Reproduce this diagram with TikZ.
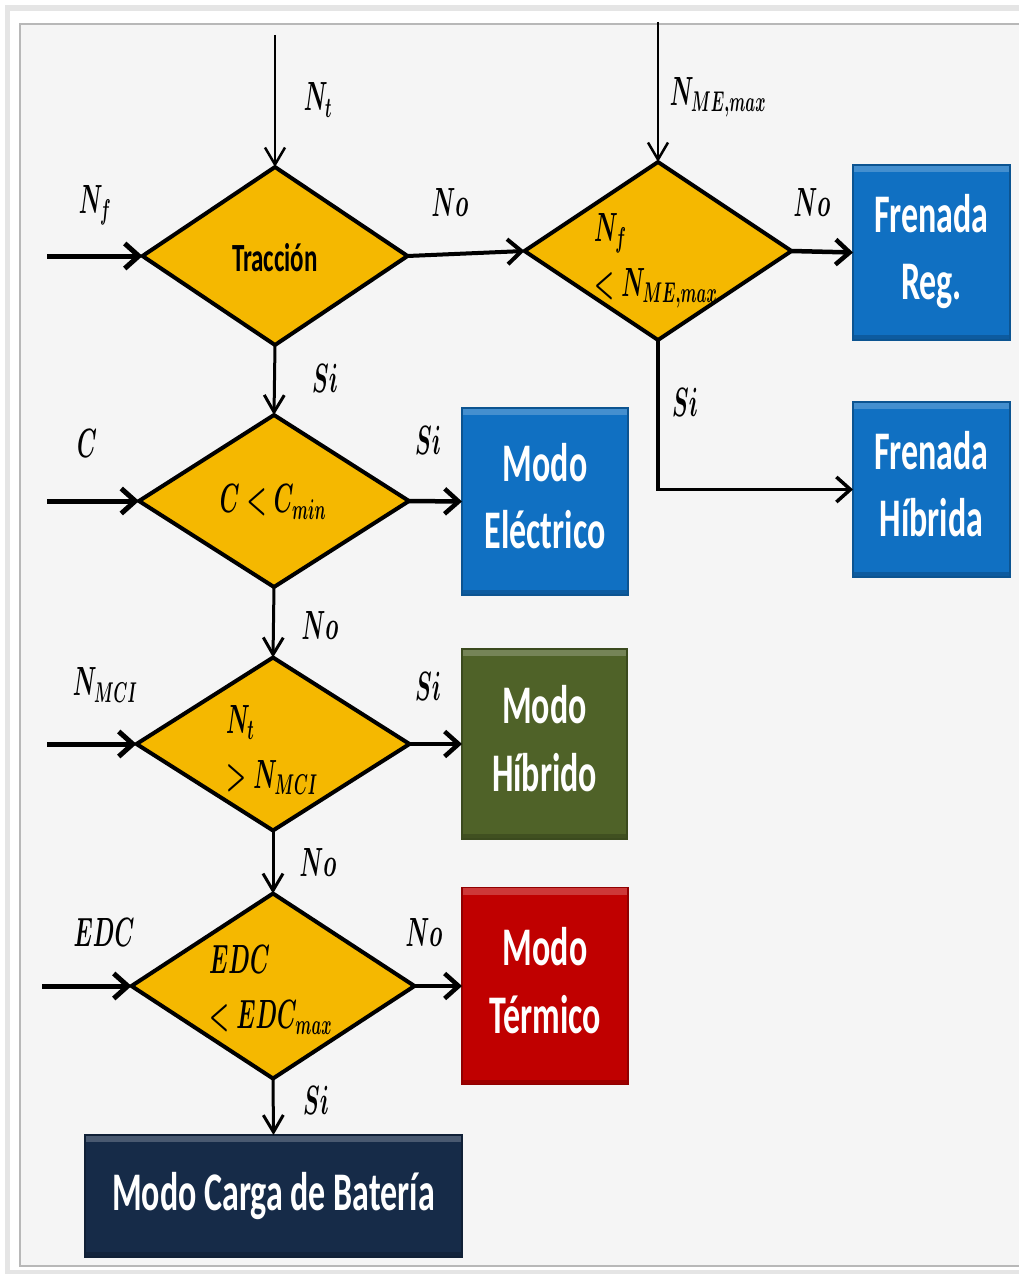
\RequirePackage{fix-cm}
\documentclass[tikz,border=0pt]{standalone}
\usepackage{fontspec}
\usepackage{graphicx}
\newfontfamily\cfont{Carlito}
\usetikzlibrary{shapes.geometric,arrows.meta}
\definecolor{gold}{RGB}{245,184,0}
\definecolor{mblue}{RGB}{16,112,194}
\definecolor{mgreen}{RGB}{79,98,40}
\definecolor{mred}{RGB}{192,0,0}
\definecolor{mnavy}{RGB}{22,43,72}
\definecolor{panel}{RGB}{245,245,245}
\newcommand{\tallt}[1]{\scalebox{1}[1.6]{#1}}
\newcommand{\tallm}[1]{\scalebox{0.93}[1.7]{#1}}
\begin{document}
\begin{tikzpicture}[x=1pt,y=-1pt,
  dia/.style={diamond, draw=black, line width=4pt, fill=gold, inner sep=0pt, outer sep=0pt},
  modebox/.style={rectangle, inner sep=0pt, outer sep=0pt, text=white,
     font=\cfont\bfseries\fontsize{34}{42}\selectfont, fill=#1, draw=#1!75!black, line width=1.2pt,
     path picture={\fill[white,opacity=0.22] (path picture bounding box.north west) rectangle ([yshift=-7pt]path picture bounding box.north east);
                   \fill[black,opacity=0.18] ([yshift=5pt]path picture bounding box.south west) rectangle (path picture bounding box.south east);}},
  lbl/.style={inner sep=0pt, font=\fontsize{24}{32}\selectfont\boldmath},
  arr/.style={-{Straight Barb[length=14pt,width=25pt]}, line width=#1},
  arrt/.style={-{Straight Barb[length=17pt,width=20pt]}, line width=#1}]
\useasboundingbox (0,0) rectangle (1019,1276);
% frame
\fill[white] (0,0) rectangle (1019,1276);
\fill[black!10] (5,5) rectangle (1019,1274);
\fill[white] (10,11) rectangle (1019,1270);
\filldraw[fill=panel, draw=black!28, line width=1.5pt] (20,24) rectangle (1030,1266);

% decision diamonds
\node[dia, minimum width=265pt, minimum height=178pt] (D1) at (275,256) {};
\node[dia, minimum width=267pt, minimum height=178pt] (D2) at (658,251) {};
\node[dia, minimum width=270pt, minimum height=172pt] (D3) at (274,501) {};
\node[dia, minimum width=273pt, minimum height=173pt] (D4) at (273,744) {};
\node[dia, minimum width=283pt, minimum height=185pt] (D5) at (273,986) {};

% mode boxes
\node[modebox=mblue, minimum width=157pt, minimum height=175pt] (FR) at (931.5,252.5)
  {\tallt{\begin{tabular}{c}Frenada\\Reg.\end{tabular}}};
\node[modebox=mblue, minimum width=157pt, minimum height=175pt] (FH) at (931.5,489.5)
  {\tallt{\begin{tabular}{c}Frenada\\Híbrida\end{tabular}}};
\node[modebox=mblue, minimum width=166pt, minimum height=187pt] (ME) at (545,501.5)
  {\tallt{\begin{tabular}{c}Modo\\Eléctrico\end{tabular}}};
\node[modebox=mgreen, minimum width=165pt, minimum height=190pt] (MH) at (544.5,744)
  {\tallt{\begin{tabular}{c}Modo\\Híbrido\end{tabular}}};
\node[modebox=mred, minimum width=166pt, minimum height=197pt] (MT) at (545,986)
  {\tallt{\begin{tabular}{c}Modo\\Térmico\end{tabular}}};
\node[modebox=mnavy, minimum width=377pt, minimum height=122pt] (MC) at (273.5,1196)
  {\tallt{Modo Carga de Batería}};

% free ends
\coordinate (inNt) at (275,35);
\coordinate (inNme) at (658,22);
\coordinate (inNf) at (47,256);
\coordinate (inC) at (47,501);
\coordinate (inNmci) at (47,744);
\coordinate (inEdc) at (42,986);

% connectors
\draw[arrt=2.5pt] (inNt) -- (D1.north);
\draw[arr=5pt] (inNf) -- (D1.west);
\draw[arr=4pt] (D1.east) -- (D2.west);
\draw[arrt=2.5pt] (inNme) -- (D2.north);
\draw[arr=4.5pt] (D2.east) -- (FR.west);
\draw[arr=3.5pt] (D2.south) |- (FH.west);
\draw[arrt=3pt] (D1.south) -- (D3.north);
\draw[arr=5pt] (inC) -- (D3.west);
\draw[arr=4.5pt] (D3.east) -- (ME.west);
\draw[arrt=3pt] (D3.south) -- (D4.north);
\draw[arr=5pt] (inNmci) -- (D4.west);
\draw[arr=4.5pt] (D4.east) -- (MH.west);
\draw[arrt=3pt] (D4.south) -- (D5.north);
\draw[arr=5pt] (inEdc) -- (D5.west);
\draw[arr=4.5pt] (D5.east) -- (MT.west);
\draw[arrt=3pt] (D5.south) -- (MC.north);

% texts inside diamonds
\node[inner sep=0pt, font=\cfont\bfseries\fontsize{25}{30}\selectfont] (tD1) at ([yshift=-2pt]D1.center) {\tallt{Tracción}};
\node[lbl, anchor=west] (tD2) at (594,258) {\tallm{\begin{tabular}{@{}l@{}}$N_f$\\$<N_{ME,max}$\end{tabular}}};
\node[lbl] (tD3) at (273,502) {\tallm{$C<C_{min}$}};
\node[lbl, anchor=west] (tD4) at (226,750) {\tallm{\begin{tabular}{@{}l@{}}$N_t$\\$>N_{MCI}$\end{tabular}}};
\node[lbl, anchor=west] (tD5) at (209,990) {\tallm{\begin{tabular}{@{}l@{}}$EDC$\\$<EDC_{max}$\end{tabular}}};

% input labels
\node[lbl] (lNt) at (318,100) {\tallm{$N_t$}};
\node[lbl] (lNme) at (718,97) {\tallm{$N_{ME,max}$}};
\node[lbl] (lNf) at (95,205) {\tallm{$N_f$}};
\node[lbl] (lC) at (87,443) {\tallm{$C$}};
\node[lbl] (lNmci) at (105,685) {\tallm{$N_{MCI}$}};
\node[lbl] (lEdc) at (104,932) {\tallm{$EDC$}};

% branch labels
\node[lbl] (b1) at (450,203) {\tallm{$No$}};
\node[lbl] (b2) at (812,203) {\tallm{$No$}};
\node[lbl] (b3) at (325,378) {\tallm{$Si$}};
\node[lbl] (b4) at (685,402) {\tallm{$Si$}};
\node[lbl] (b5) at (428,440) {\tallm{$Si$}};
\node[lbl] (b6) at (320,625) {\tallm{$No$}};
\node[lbl] (b7) at (428,686) {\tallm{$Si$}};
\node[lbl] (b8) at (318,862) {\tallm{$No$}};
\node[lbl] (b9) at (424,932) {\tallm{$No$}};
\node[lbl] (b10) at (316,1100) {\tallm{$Si$}};
\end{tikzpicture}
\end{document}
